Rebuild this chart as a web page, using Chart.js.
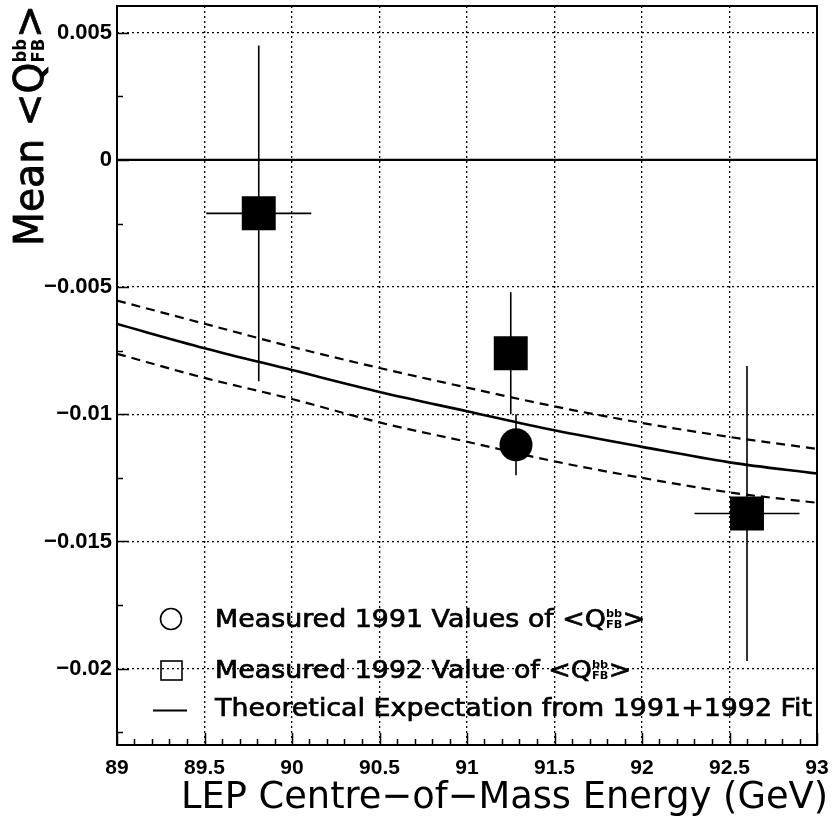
<!DOCTYPE html>
<html><head><meta charset="utf-8">
<script src="https://cdn.jsdelivr.net/npm/chart.js@4/dist/chart.umd.min.js"></script>
<style>html,body{margin:0;padding:0;background:#fff}canvas{display:block}</style>
</head><body>
<canvas id="c" width="832" height="817"></canvas>
<script>
// ---- axis ticks ----
const xTicks = [89, 89.5, 90, 90.5, 91, 91.5, 92, 92.5, 93];
const xTickLabels = ['89', '89.5', '90', '90.5', '91', '91.5', '92', '92.5', '93'];
const yTicks = [0.005, 0, -0.005, -0.01, -0.015, -0.02];
const yTickLabels = ['0.005', '0', '\u22120.005', '\u22120.01', '\u22120.015', '\u22120.02'];
const xRange = [89, 93];
const yRange = [-0.023, 0.00605];

// ---- measured 1992 values (squares) ----
const x1992 = [89.81, 91.25, 92.6];
const y1992 = [-0.0021, -0.0076, -0.0139];
const y1992Err = [0.0066, 0.0024, 0.0058];
const x1992Err = [0.3, 0, 0.3];

// ---- measured 1991 values (circle) ----
const x1991 = [91.28];
const y1991 = [-0.0112];
const y1991Err = [0.0012];

// ---- theoretical expectation ----
const theoryX = [89, 89.5, 90, 90.5, 91, 91.5, 92, 92.5, 93];
const theoryCentral = [-0.00645, -0.0074, -0.00826, -0.00912, -0.00988, -0.01063, -0.01128, -0.01189, -0.01233];
const theoryUpper = [-0.00553, -0.00644, -0.00735, -0.00818, -0.00895, -0.00969, -0.01034, -0.01089, -0.01136];
const theoryLower = [-0.00762, -0.00857, -0.0094, -0.01032, -0.01108, -0.01185, -0.0125, -0.01307, -0.01348];

// ---- texts ----
const xTitle = 'LEP Centre\u2212of\u2212Mass Energy (GeV)';
const yTitlePrefix = 'Mean ';
const legendTexts = ['Measured 1991 Values of ', 'Measured 1992 Value of ', 'Theoretical Expectation from 1991+1992 Fit'];

const pts = (xs, ys) => xs.map((x, i) => ({x, y: ys[i]}));

const TITLE_FONT = '"DejaVu Sans"';
const TICK_FONT = '"Liberation Sans"';

function drawQ(ctx, prefix, size, fam, weight, x, y, draw, stroke) {
  ctx.font = `${weight} ${size}px ${fam}`;
  const a = prefix + '<Q';
  let w = ctx.measureText(a).width;
  if (draw) { ctx.fillText(a, x, y); if (stroke) ctx.strokeText(a, x, y); }
  const s = size * 0.42;
  ctx.font = `bold ${s}px ${fam}`;
  const ws = Math.max(ctx.measureText('bb').width, ctx.measureText('FB').width);
  if (draw) {
    ctx.fillText('bb', x + w, y - size * 0.42);
    ctx.fillText('FB', x + w, y + size * 0.02);
  }
  w += ws + size * 0.02;
  ctx.font = `${weight} ${size}px ${fam}`;
  if (draw) { ctx.fillText('>', x + w, y); if (stroke) ctx.strokeText('>', x + w, y); }
  w += ctx.measureText('>').width;
  return w;
}

const decor = {
  id: 'decor',
  beforeDraw(chart) {
    const ctx = chart.ctx;
    ctx.save();
    ctx.fillStyle = '#fff';
    ctx.fillRect(0, 0, chart.width, chart.height);
    ctx.restore();
  },
  beforeDatasetsDraw(chart) {
    const ctx = chart.ctx, xs = chart.scales.x, ys = chart.scales.y, a = chart.chartArea;
    ctx.save();
    // zero line
    ctx.strokeStyle = '#000';
    ctx.lineWidth = 2.2;
    ctx.beginPath();
    ctx.moveTo(a.left, ys.getPixelForValue(0));
    ctx.lineTo(a.right, ys.getPixelForValue(0));
    ctx.stroke();
    // error bars
    ctx.lineWidth = 1.6;
    const bars = (X, Y, YE, XE) => {
      X.forEach((xv, i) => {
        const px = xs.getPixelForValue(xv), py = ys.getPixelForValue(Y[i]);
        ctx.beginPath();
        ctx.moveTo(px, ys.getPixelForValue(Y[i] + YE[i]));
        ctx.lineTo(px, ys.getPixelForValue(Y[i] - YE[i]));
        ctx.stroke();
        if (XE && XE[i] > 0) {
          ctx.beginPath();
          ctx.moveTo(xs.getPixelForValue(xv - XE[i]), py);
          ctx.lineTo(xs.getPixelForValue(xv + XE[i]), py);
          ctx.stroke();
        }
      });
    };
    bars(x1992, y1992, y1992Err, x1992Err);
    bars(x1991, y1991, y1991Err, null);
    ctx.restore();
  },
  afterDraw(chart) {
    const ctx = chart.ctx, xs = chart.scales.x, ys = chart.scales.y, a = chart.chartArea;
    ctx.save();
    ctx.strokeStyle = '#000';
    ctx.fillStyle = '#000';
    // frame
    ctx.lineWidth = 2;
    ctx.strokeRect(a.left, a.top, a.right - a.left, a.bottom - a.top);
    // x ticks (inward)
    ctx.lineWidth = 1.5;
    for (let k = 0; k <= 40; k++) {
      const v = xRange[0] + k * 0.1;
      const px = Math.round(xs.getPixelForValue(v)) + 0.5;
      const len = (k % 5 === 0) ? 12 : 6;
      ctx.beginPath(); ctx.moveTo(px, a.bottom); ctx.lineTo(px, a.bottom - len); ctx.stroke();
    }
    // y ticks (inward)
    for (let k = -9; k <= 2; k++) {
      const v = k * 0.0025;
      const py = Math.round(ys.getPixelForValue(v)) + 0.5;
      const len = (k % 2 === 0) ? 12 : 6;
      ctx.beginPath(); ctx.moveTo(a.left, py); ctx.lineTo(a.left + len, py); ctx.stroke();
    }
    // x title
    ctx.textBaseline = 'alphabetic';
    ctx.textAlign = 'left';
    ctx.font = `normal 38px ${TITLE_FONT}`;
    let w0 = ctx.measureText(xTitle).width;
    ctx.save();
    ctx.translate(181, 808);
    ctx.scale(647 / w0, 1);
    ctx.fillText(xTitle, 0, 0);
    ctx.restore();
    // y title (rotated)
    w0 = drawQ(ctx, yTitlePrefix, 40, TITLE_FONT, 'normal', 0, 0, false);
    ctx.save();
    ctx.translate(43, 246);
    ctx.rotate(-Math.PI / 2);
    ctx.scale(241 / w0, 1);
    ctx.lineWidth = 0.8;
    drawQ(ctx, yTitlePrefix, 40, TITLE_FONT, 'normal', 0, 0, true, true);
    ctx.restore();
    // legend
    const LS = 25;
    ctx.font = `normal ${LS}px ${TITLE_FONT}`;
    const sx = 597 / ctx.measureText(legendTexts[2]).width;
    const base = [627, 678, 716];
    ctx.lineWidth = 0.7;
    ctx.save(); ctx.translate(215, base[0]); ctx.scale(sx, 1);
    drawQ(ctx, legendTexts[0], LS, TITLE_FONT, 'normal', 0, 0, true, true); ctx.restore();
    ctx.save(); ctx.translate(215, base[1]); ctx.scale(sx, 1);
    drawQ(ctx, legendTexts[1], LS, TITLE_FONT, 'normal', 0, 0, true, true); ctx.restore();
    ctx.save(); ctx.translate(215, base[2]); ctx.scale(sx, 1);
    ctx.font = `normal ${LS}px ${TITLE_FONT}`;
    ctx.fillText(legendTexts[2], 0, 0); ctx.strokeText(legendTexts[2], 0, 0); ctx.restore();
    // legend symbols
    ctx.lineWidth = 1.6;
    ctx.beginPath(); ctx.arc(171, 619, 10.5, 0, Math.PI * 2); ctx.stroke();
    ctx.strokeRect(161, 661, 21, 19);
    ctx.lineWidth = 2;
    ctx.beginPath(); ctx.moveTo(153, 710.5); ctx.lineTo(187, 710.5); ctx.stroke();
    ctx.restore();
  }
};

const zeroPad = s => { s.paddingLeft = 0; s.paddingRight = 0; s.paddingTop = 0; s.paddingBottom = 0; };

new Chart(document.getElementById('c'), {
  type: 'scatter',
  data: {
    datasets: [
      { label: 'Theory', data: pts(theoryX, theoryCentral), showLine: true, borderColor: '#000', borderWidth: 2.6, pointRadius: 0, cubicInterpolationMode: 'monotone', order: 5 },
      { label: 'Theory upper', data: pts(theoryX, theoryUpper), showLine: true, borderColor: '#000', borderWidth: 2.2, borderDash: [9, 6], pointRadius: 0, cubicInterpolationMode: 'monotone', order: 5 },
      { label: 'Theory lower', data: pts(theoryX, theoryLower), showLine: true, borderColor: '#000', borderWidth: 2.2, borderDash: [9, 6], pointRadius: 0, cubicInterpolationMode: 'monotone', order: 5 },
      { label: 'Measured 1992', data: pts(x1992, y1992), pointStyle: 'rect', pointRadius: 24, backgroundColor: '#000', borderColor: '#000', borderWidth: 0, order: 1 },
      { label: 'Measured 1991', data: pts(x1991, y1991), pointStyle: 'circle', pointRadius: 16.5, backgroundColor: '#000', borderColor: '#000', borderWidth: 0, order: 1 }
    ]
  },
  options: {
    responsive: false,
    devicePixelRatio: 1,
    animation: false,
    events: [],
    layout: { autoPadding: false, padding: { left: 0, top: 6, right: 15, bottom: 0 } },
    plugins: { legend: { display: false }, tooltip: { enabled: false }, title: { display: false } },
    scales: {
      x: {
        type: 'linear', min: xRange[0], max: xRange[1],
        afterBuildTicks: s => { s.ticks = xTicks.map(v => ({value: v})); },
        afterFit: s => { s.height = 72; zeroPad(s); },
        ticks: {
          autoSkip: false, maxRotation: 0, padding: 11, color: '#000',
          font: { family: TICK_FONT, size: 21, weight: 'bold' },
          callback: (v) => { const i = xTicks.indexOf(v); return i >= 0 ? xTickLabels[i] : ''; }
        },
        grid: {
          drawTicks: false,
          color: c => (c.tick && (c.tick.value === xRange[0] || c.tick.value === xRange[1])) ? 'rgba(0,0,0,0)' : '#000',
          lineWidth: 1.3
        },
        border: { display: false, dash: [2, 3] }
      },
      y: {
        type: 'linear', min: yRange[0], max: yRange[1],
        afterBuildTicks: s => { s.ticks = yTicks.map(v => ({value: v})); },
        afterFit: s => { s.width = 117; zeroPad(s); },
        ticks: {
          autoSkip: false, padding: 5, color: '#000',
          font: { family: TICK_FONT, size: 22, weight: 'bold' },
          callback: (v) => { const i = yTicks.indexOf(v); return i >= 0 ? yTickLabels[i] : ''; }
        },
        grid: {
          drawTicks: false,
          color: c => (c.tick && c.tick.value === 0) ? 'rgba(0,0,0,0)' : '#000',
          lineWidth: 1.3
        },
        border: { display: false, dash: [2, 3] }
      }
    }
  },
  plugins: [decor]
});
</script>
</body></html>
